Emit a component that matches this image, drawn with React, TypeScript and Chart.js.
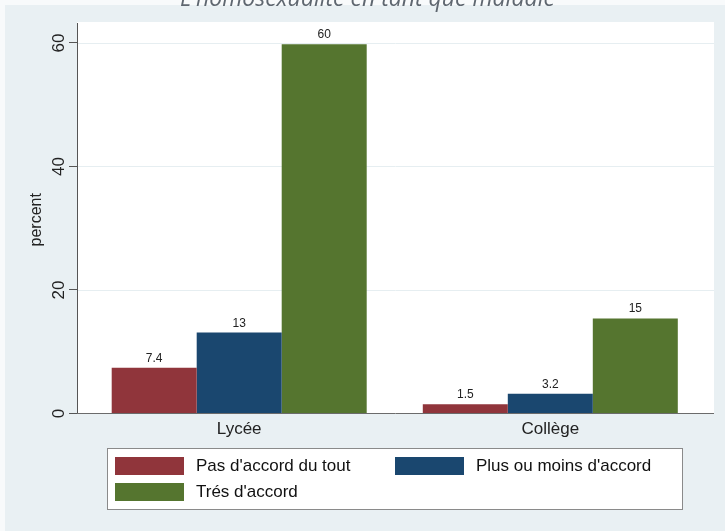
import React, { useEffect, useRef } from "react";
import { Chart, registerables } from "chart.js";

Chart.register(...registerables);

const categories = ["Lycée", "Collège"];
const seriesNames = ["Pas d'accord du tout", "Plus ou moins d'accord", "Trés d'accord"];
const pasDaccord = [7.4, 1.5];
const plusOuMoins = [13.1, 3.2];
const tresDaccord = [59.8, 15.4];
const yTicks = [0, 20, 40, 60];
const yTitle = "percent";
const titleText = "L'homosexualité en tant que maladie";

const COLORS = ["#90353b", "#1a476f", "#55752f"];
const BG = "#e9f0f3";
const FONT = "'Liberation Sans', Arial, Helvetica, sans-serif";

const PLOT = { left: 77, right: 714, top: 22, bottom: 413.5 };

const stataPlugin = {
  id: "stata",
  beforeDraw(chart: any) {
    const ctx = chart.ctx;
    const W = chart.width;
    const H = chart.height;
    const y = chart.scales.y;
    ctx.save();
    ctx.fillStyle = BG;
    ctx.fillRect(0, 0, W, H);
    ctx.fillStyle = "#f8fafb";
    ctx.fillRect(0, 0, W, 5);
    ctx.fillRect(0, 0, 5, H);
    // plot region
    ctx.fillStyle = "#ffffff";
    ctx.fillRect(PLOT.left, PLOT.top, PLOT.right - PLOT.left, PLOT.bottom - PLOT.top);
    // gridlines
    ctx.strokeStyle = "#e6eef1";
    ctx.lineWidth = 1;
    yTicks.forEach((t) => {
      if (t === 0) return;
      const py = Math.round(y.getPixelForValue(t)) + 0.5;
      ctx.beginPath();
      ctx.moveTo(PLOT.left, py);
      ctx.lineTo(PLOT.right, py);
      ctx.stroke();
    });
    ctx.restore();
  },
  afterDatasetsDraw(chart: any) {
    const ctx = chart.ctx;
    const x = chart.scales.x;
    const y = chart.scales.y;
    ctx.save();
    // axes
    ctx.strokeStyle = "#555";
    ctx.lineWidth = 1;
    ctx.beginPath();
    ctx.moveTo(PLOT.left + 0.5, PLOT.top + 1);
    ctx.lineTo(PLOT.left + 0.5, PLOT.bottom + 0.5);
    ctx.stroke();
    ctx.strokeStyle = "#6b6b6b";
    ctx.beginPath();
    ctx.moveTo(PLOT.left, PLOT.bottom);
    ctx.lineTo(PLOT.right, PLOT.bottom);
    ctx.stroke();
    // y ticks + labels
    ctx.strokeStyle = "#555";
    ctx.fillStyle = "#222";
    ctx.font = `17px ${FONT}`;
    yTicks.forEach((t) => {
      const py = y.getPixelForValue(t);
      const ly = Math.round(py - 0.5) + 0.5;
      ctx.beginPath();
      ctx.moveTo(69, ly);
      ctx.lineTo(PLOT.left, ly);
      ctx.stroke();
      ctx.save();
      ctx.translate(63.5, py);
      ctx.rotate(-Math.PI / 2);
      ctx.textAlign = "center";
      ctx.textBaseline = "alphabetic";
      ctx.fillText(String(t), 0, 0);
      ctx.restore();
    });
    // y title
    ctx.save();
    ctx.font = `16px ${FONT}`;
    ctx.translate(41, (PLOT.top + PLOT.bottom) / 2 + 2);
    ctx.rotate(-Math.PI / 2);
    ctx.textAlign = "center";
    ctx.textBaseline = "alphabetic";
    ctx.fillText(yTitle, 0, 0);
    ctx.restore();
    // category labels
    ctx.font = `17px ${FONT}`;
    ctx.textAlign = "center";
    ctx.textBaseline = "alphabetic";
    categories.forEach((c, i) => {
      ctx.fillText(c, x.getPixelForValue(i), 433.5);
    });
    // value labels
    ctx.font = `12px ${FONT}`;
    ctx.fillStyle = "#222";
    chart.data.datasets.forEach((ds: any, di: number) => {
      const meta = chart.getDatasetMeta(di);
      meta.data.forEach((bar: any, j: number) => {
        const v = ds.data[j] as number;
        ctx.fillText(Number(v.toPrecision(2)).toString(), bar.x, bar.y - 6);
      });
    });
    // legend
    const lx = 107, ly = 448, lw = 575, lh = 61;
    ctx.fillStyle = "#ffffff";
    ctx.fillRect(lx, ly, lw, lh);
    ctx.strokeStyle = "#8a8a8a";
    ctx.lineWidth = 1;
    ctx.strokeRect(lx + 0.5, ly + 0.5, lw, lh);
    const items = [
      { sx: 115, sy: 457, tx: 196 },
      { sx: 395, sy: 457, tx: 476 },
      { sx: 115, sy: 483, tx: 196 },
    ];
    ctx.font = `17px ${FONT}`;
    ctx.textAlign = "left";
    ctx.textBaseline = "middle";
    seriesNames.forEach((name, i) => {
      const it = items[i];
      ctx.fillStyle = COLORS[i];
      ctx.fillRect(it.sx, it.sy, 69, 18);
      ctx.fillStyle = "#111";
      ctx.fillText(name, it.tx, it.sy + 9.5);
    });
    // title (cut at top)
    ctx.fillStyle = "#5f6770";
    let fs = 20;
    ctx.font = `italic ${fs}px 'Open Sans', sans-serif`;
    const w = ctx.measureText(titleText).width;
    fs = (fs * 375) / w;
    ctx.font = `italic ${fs}px 'Open Sans', sans-serif`;
    ctx.textAlign = "center";
    ctx.textBaseline = "alphabetic";
    ctx.fillText(titleText, 367.5, 6);
    ctx.restore();
  },
};

export default function App() {
  const ref = useRef<HTMLCanvasElement | null>(null);
  useEffect(() => {
    document.body.style.margin = "0";
    if (!ref.current) return;
    const chart = new Chart(ref.current, {
      type: "bar",
      data: {
        labels: categories,
        datasets: [
          { label: seriesNames[0], data: pasDaccord, backgroundColor: COLORS[0] },
          { label: seriesNames[1], data: plusOuMoins, backgroundColor: COLORS[1] },
          { label: seriesNames[2], data: tresDaccord, backgroundColor: COLORS[2] },
        ],
      },
      options: {
        animation: false,
        responsive: false,
        maintainAspectRatio: false,
        devicePixelRatio: 1,
        layout: { padding: { left: 83.65, right: 19.15, top: 22, bottom: 117.5 } },
        datasets: { bar: { categoryPercentage: 0.8197, barPercentage: 1, borderWidth: 0 } },
        scales: {
          x: { display: false, offset: true },
          y: { display: false, min: 0, max: 63.4 },
        },
        plugins: { legend: { display: false }, tooltip: { enabled: false }, title: { display: false } },
      },
      plugins: [stataPlugin],
    });
    return () => chart.destroy();
  }, []);
  return (
    <div style={{ width: 725, height: 531 }}>
      <canvas ref={ref} width={725} height={531} style={{ display: "block", width: 725, height: 531 }} />
    </div>
  );
}
